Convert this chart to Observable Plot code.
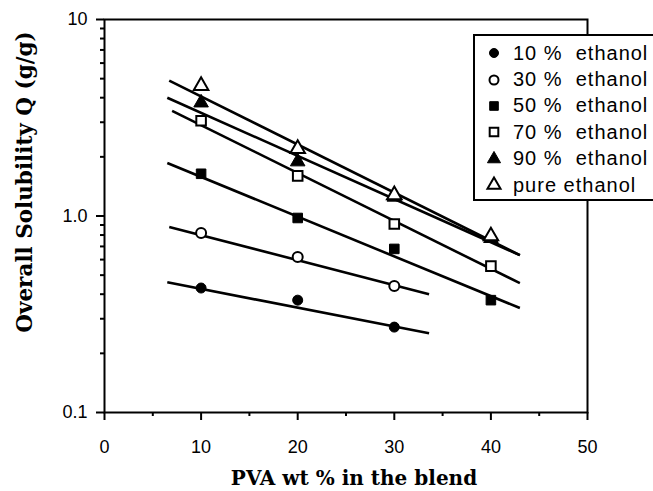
<!DOCTYPE html>
<html><head><meta charset="utf-8">
<script src="https://cdn.jsdelivr.net/npm/d3@7"></script>
<script src="https://cdn.jsdelivr.net/npm/@observablehq/plot@0.6"></script>
<style>
html,body{margin:0;padding:0;background:#fff;overflow:hidden;}
#wrap{position:relative;width:653px;height:491px;}
#legend{position:absolute;left:473px;top:34px;width:190px;height:167px;border:2px solid #000;background:#fff;box-sizing:border-box;padding-top:4px;font-family:"Liberation Sans",Arial,sans-serif;font-size:20px;letter-spacing:1px;color:#000;}
.row{height:26.4px;display:flex;align-items:center;white-space:pre;}
.row svg{width:38px;height:26px;flex:none;}
</style></head>
<body><div id="wrap"><div id="legend"></div></div>
<script>
const pva = [10, 20, 30, 40];
const series = ["10 %  ethanol", "30 %  ethanol", "50 %  ethanol", "70 %  ethanol", "90 %  ethanol", "pure ethanol"];
const q10 = [0.43, 0.373, 0.272];
const q30 = [0.82, 0.618, 0.44];
const q50 = [1.64, 0.977, 0.68, 0.373];
const q70 = [3.05, 1.60, 0.91, 0.556];
const q90 = [3.77, 1.89, 1.25, 0.77];
const qPure = [4.60, 2.20, 1.28, 0.79];
const fitStartX = [6.5, 6.7, 6.5, 7.0, 6.5, 6.7];
const fitEndX = [33.6, 33.6, 43, 43, 43, 43];
const fitStartQ = [0.46, 0.88, 1.86, 3.43, 4.0, 4.89];
const fitEndQ = [0.253, 0.40, 0.34, 0.455, 0.632, 0.632];
const xTicks = [0, 10, 20, 30, 40, 50];
const xMinor = [5, 15, 25, 35, 45];
const yTicks = [0.1, 1, 10];
const yTickLabels = ["0.1", "1.0", "10"];
const yMinor = [0.2,0.3,0.4,0.5,0.6,0.7,0.8,0.9,2,3,4,5,6,7,8,9];
const xLabel = "PVA wt % in the blend";
const yLabel = "Overall Solubility Q (g/g)";

const values = [q10, q30, q50, q70, q90, qPure];
const symbols = ["circle", "circle", "square", "square", "triangle", "triangle"];
const filled = [true, false, true, false, true, false];
const radii = {circle: 5, square: 5.4, triangle: 5.4};

const fits = series.map((s, i) => ({x1: fitStartX[i], x2: fitEndX[i], y1: fitStartQ[i], y2: fitEndQ[i]}));

const marks = [
  Plot.link(fits, {x1: "x1", x2: "x2", y1: "y1", y2: "y2", stroke: "black", strokeWidth: 2.6}),
];
values.forEach((vals, i) => {
  const pts = vals.map((v, j) => ({x: pva[j], y: v}));
  marks.push(Plot.dot(pts, {x: "x", y: "y", symbol: symbols[i], r: radii[symbols[i]],
    fill: filled[i] ? "black" : "white", stroke: "black", strokeWidth: filled[i] ? 1 : 2}));
});
marks.push(
  Plot.frame({stroke: "black", strokeWidth: 2}),
  Plot.axisX({ticks: xTicks, tickSize: 8, tickPadding: 20, tickFormat: d => String(d), label: null, strokeWidth: 2}),
  Plot.axisX({ticks: xMinor, tickSize: 4, tickFormat: () => "", label: null, strokeWidth: 2}),
  Plot.axisY({ticks: yTicks, tickSize: 8, tickPadding: 9, tickFormat: d => yTickLabels[yTicks.indexOf(d)], label: null, strokeWidth: 2}),
  Plot.axisY({ticks: yMinor, tickSize: 4, tickFormat: () => "", label: null, strokeWidth: 2}),
  Plot.text([xLabel], {text: d => d, frameAnchor: "bottom", dy: 66, dx: 8, lineAnchor: "middle", textAnchor: "middle",
    fontFamily: "DejaVu Serif", fontWeight: "bold", fontSize: 20}),
  Plot.text([yLabel], {text: d => d, frameAnchor: "left", rotate: -90, dx: -79, dy: -34, lineAnchor: "middle", textAnchor: "middle",
    fontFamily: "DejaVu Serif", fontWeight: "bold", fontSize: 21.5})
);

const chart = Plot.plot({
  width: 653, height: 491,
  marginLeft: 104, marginRight: 66, marginTop: 19, marginBottom: 79,
  x: {domain: [0, 50]},
  y: {type: "log", domain: [0.1, 10]},
  style: {fontFamily: "Liberation Sans, Arial, sans-serif", fontSize: "18px", color: "black", background: "white", overflow: "visible"},
  marks
});
document.getElementById("wrap").prepend(chart);

const legend = document.getElementById("legend");
series.forEach((s, i) => {
  const row = document.createElement("div");
  row.className = "row";
  const typ = {circle: d3.symbolCircle, square: d3.symbolSquare, triangle: d3.symbolTriangle}[symbols[i]];
  const r = radii[symbols[i]] * 0.9;
  const path = d3.symbol(typ, Math.PI * r * r)();
  row.innerHTML = `<svg viewBox="-19 -13 38 26"><path d="${path}" fill="${filled[i] ? "black" : "white"}" stroke="black" stroke-width="${filled[i] ? 1 : 2}"/></svg>`;
  row.appendChild(document.createTextNode(s));
  legend.appendChild(row);
});
</script></body></html>
